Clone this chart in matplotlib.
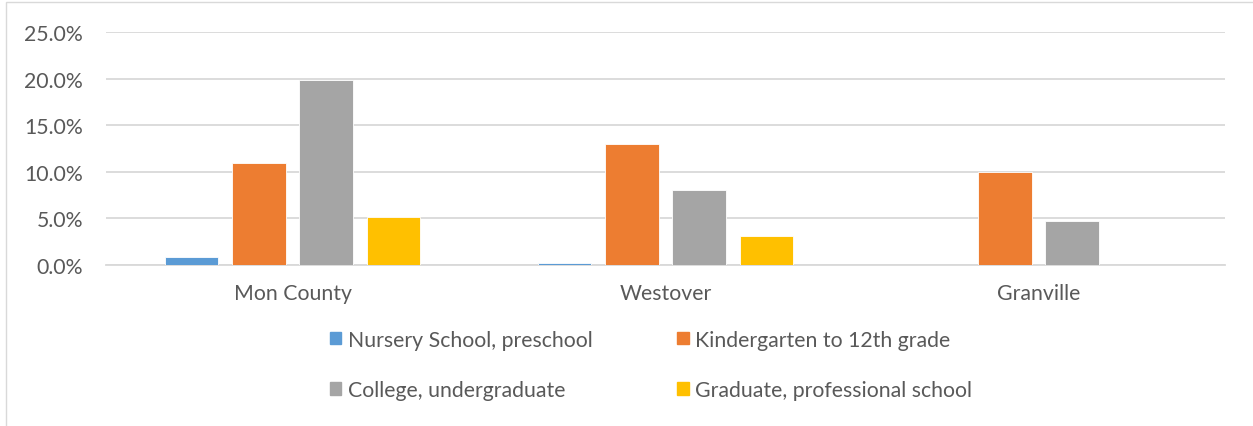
import numpy as np
import matplotlib
matplotlib.use("Agg")
import matplotlib.pyplot as plt
import matplotlib.patches as mpatch
from matplotlib.ticker import FuncFormatter

plt.rcParams['font.family'] = ['Lato', 'DejaVu Sans']

places = ['Mon County', 'Westover', 'Granville']
series = ['Nursery School, preschool', 'Kindergarten to 12th grade',
          'College, undergraduate', 'Graduate, professional school']
nursery = [0.9, 0.2, 0.0]
k12 = [10.9, 13.0, 9.95]
college = [19.8, 8.1, 4.7]
graduate = [5.2, 3.15, 0.0]
colors = ['#5B9BD5', '#ED7D31', '#A5A5A5', '#FFC000']

TXT = '#595959'
GRID = '#d9d9d9'
FS = 15.3

fig = plt.figure(figsize=(12.53, 4.27), dpi=100)
ax = fig.add_axes([106 / 1253, 1 - 266 / 427, 1119 / 1253, 233 / 427])

x = np.arange(len(places))
step = 0.18
width = 0.143
for i, (vals, name) in enumerate(zip([nursery, k12, college, graduate], series)):
    ax.bar(x + (i - 1.5) * step, vals, width, color=colors[i], label=name,
           edgecolor='white', linewidth=0.6, zorder=3)

ax.set_xlim(-0.5, len(places) - 0.5)
ax.set_ylim(0, 25)
ax.set_yticks(np.arange(0, 26, 5))
ax.yaxis.set_major_formatter(FuncFormatter(lambda v, p: '%.1f%%' % v))
ax.set_xticks(x)
ax.set_xticklabels(places)
ax.tick_params(axis='both', length=0, labelsize=FS, colors=TXT)
ax.tick_params(axis='y', pad=16.5)
ax.tick_params(axis='x', pad=13)
ax.grid(axis='y', color=GRID, linewidth=1.3, zorder=0)
for s in ['top', 'right', 'left']:
    ax.spines[s].set_visible(False)
ax.spines['bottom'].set_color(GRID)
ax.spines['bottom'].set_linewidth(1.3)

# legend is filled column by column, so reorder to get rows like Excel
order = [0, 2, 1, 3]
handles = [mpatch.Patch(color=colors[k]) for k in order]
labels = [series[k] for k in order]
leg = fig.legend(handles, labels, ncol=2, loc='center',
                 bbox_to_anchor=(651 / 1253, 1 - 366 / 427),
                 frameon=False, fontsize=FS, handlelength=0.55,
                 handleheight=0.55, handletextpad=0.3, columnspacing=4.0,
                 labelspacing=1.45)
for t in leg.get_texts():
    t.set_color(TXT)

# outer chart border
fig.patches.append(mpatch.Rectangle((6 / 1253, -0.05), 1.1, 1 - 3 / 427 + 0.05,
                                    transform=fig.transFigure, fill=False,
                                    edgecolor=GRID, linewidth=1.0))

fig.savefig('out.png', dpi=100)
